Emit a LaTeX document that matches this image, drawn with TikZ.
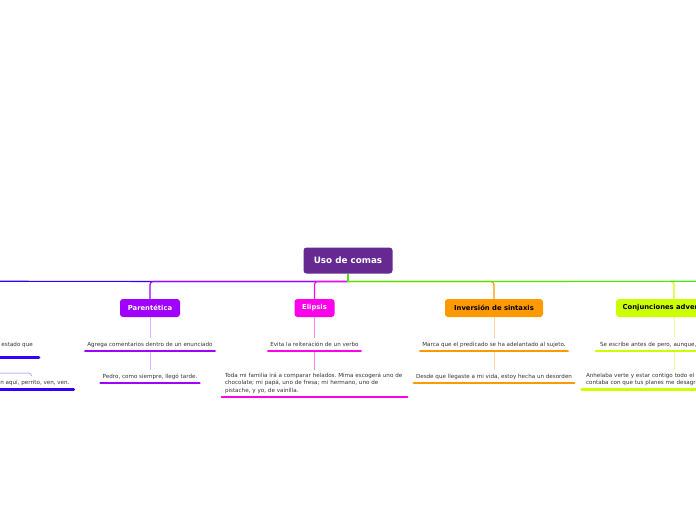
\documentclass[tikz,border=0pt]{standalone}
\usepackage{fontspec}
\setmainfont{DejaVu Sans}
\usetikzlibrary{positioning}
\frenchspacing
\definecolor{rootc}{RGB}{102,41,145}
\definecolor{bluec}{RGB}{51,0,255}
\definecolor{bluel}{RGB}{190,180,255}
\definecolor{parc}{RGB}{160,0,255}
\definecolor{parl}{RGB}{225,178,255}
\definecolor{elic}{RGB}{255,0,235}
\definecolor{elil}{RGB}{255,130,245}
\definecolor{invc}{RGB}{255,153,0}
\definecolor{invl}{RGB}{255,214,153}
\definecolor{conc}{RGB}{204,255,0}
\definecolor{conl}{RGB}{238,255,150}
\definecolor{greenc}{RGB}{76,230,20}
\definecolor{textc}{RGB}{51,51,51}
\tikzset{
	topic/.style={rounded corners=3pt, inner sep=0pt, minimum height=18pt, font=\fontsize{6.8}{8}\selectfont\bfseries},
	note/.style={text=textc, font=\fontsize{5.6}{7.2}\selectfont, inner xsep=2pt, inner ysep=3.5pt, align=center},
	oneline/.style={text height=4.3pt, text depth=1.4pt},
	branch/.style={line width=1.2pt, rounded corners=3pt},
	link/.style={line width=1pt},
	uline/.style={line width=2.6pt, line cap=round}
}

\begin{document}
\begin{tikzpicture}[x=1pt, y=-1pt]
	\useasboundingbox (0,0) rectangle (696,520);
	\clip (0,0) rectangle (696,520);

	% central topic
	\node[topic, fill=rootc, text=white, minimum width=89pt, minimum height=26pt, font=\fontsize{8.8}{10}\selectfont\bfseries] (root) at (348,260.5) {Uso de comas};
	\coordinate (hub) at ([yshift=-7.8pt]root.south);
	\coordinate (west) at (-60,281.3);
	\coordinate (east) at (760,281.3);

	% main topics
	\node[topic, fill=parc, text=white, minimum width=60pt] (par) at (150,308) {Parentética};
	\node[topic, fill=elic, text=white, minimum width=40pt] (eli) at (314.5,308) {Elipsis};
	\node[topic, fill=invc, text=black, minimum width=98pt] (inv) at (494,308) {Inversión de sintaxis};
	\node[topic, fill=conc, text=black, minimum width=116pt] (con) at (674,308) {Conjunciones adversativas};

	% notes
	\node[note, oneline, anchor=base east, text depth=8pt, inner xsep=6pt] (blue1) at (39,346) {estado que};
	\coordinate (bluefork) at (-40,373);
	\node[note, oneline, anchor=north, inner xsep=4pt] (blue2) at (31.5,376.2) {Ven aquí, perrito, ven, ven.};

	\node[note, oneline, anchor=north] (par1) at (150,338) {Agrega comentarios dentro de un enunciado};
	\node[note, oneline, anchor=north] (par2) at (150,370) {Pedro, como siempre, llegó tarde.};

	\node[note, oneline, anchor=north] (eli1) at (314.5,338) {Evita la reiteración de un verbo};
	\node[note, anchor=north, text width=179pt, align=left, inner xsep=3pt] (eli2) at (314.5,369.5) {Toda mi familia irá a comparar helados. Mima escogerá uno de\\ chocolate; mi papá, uno de fresa; mi hermano, uno de\\ pistache, y yo, de vainilla.};

	\node[note, oneline, anchor=north] (inv1) at (494,338) {Marca que el predicado se ha adelantado al sujeto.};
	\node[note, oneline, anchor=north] (inv2) at (494,370) {Desde que llegaste a mi vida, estoy hecha un desorden};

	\node[note, oneline, anchor=north, text width=148pt, align=left, inner xsep=4pt] (con1) at (674,338) {Se escribe antes de pero, aunque,};
	\node[note, anchor=north, text width=176pt, align=left, inner xsep=4pt] (con2) at (674,369.5) {Anhelaba verte y estar contigo todo el fin\\ contaba con que tus planes me desagradaban};

	% branches from the central topic
	\draw[branch, bluec] (hub) -- (west);
	\draw[branch, parc] (hub) -| (par.north);
	\draw[branch, elic] (hub) -| (eli.north);
	\draw[branch, invc] (hub) -| (inv.north);
	\draw[branch, conc] (hub) -| (con.north);
	\draw[branch, greenc] (hub) -- (east);
	\draw[branch, greenc] (root.south) -- (hub);

	% links between notes
	\draw[link, bluel, rounded corners=3pt] (bluefork) -| (blue2.north);
	\draw[link, parl] (par.south) -- (par1.north);
	\draw[link, parl] (par1.south) -- (par2.north);
	\draw[link, elil] (eli.south) -- (eli1.north);
	\draw[link, elil] (eli1.south) -- (eli2.north);
	\draw[link, invl] (inv.south) -- (inv1.north);
	\draw[link, invl] (inv1.south) -- (inv2.north);
	\draw[link, conl] (con.south) -- (con1.north);
	\draw[link, conl] (con1.south) -- (con2.north);

	% underlines
	\draw[uline, bluec] (blue1.south west) -- (blue1.south east);
	\draw[uline, bluec] (blue2.south west) -- (blue2.south east);
	\draw[uline, parc] (par1.south west) -- (par1.south east);
	\draw[uline, parc] (par2.south west) -- (par2.south east);
	\draw[uline, elic] (eli1.south west) -- (eli1.south east);
	\draw[uline, elic] (eli2.south west) -- (eli2.south east);
	\draw[uline, invc] (inv1.south west) -- (inv1.south east);
	\draw[uline, invc] (inv2.south west) -- (inv2.south east);
	\draw[uline, conc] (con1.south west) -- (con1.south east);
	\draw[uline, conc] (con2.south west) -- (con2.south east);
\end{tikzpicture}
\end{document}
